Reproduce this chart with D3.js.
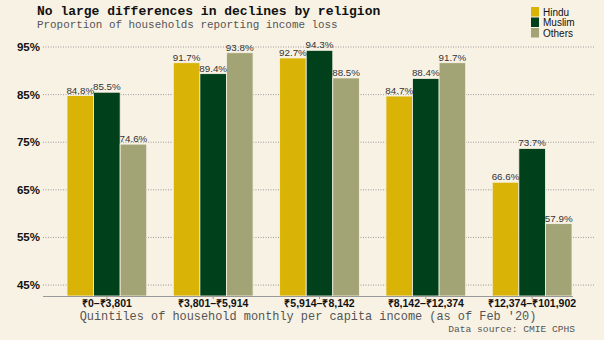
<!DOCTYPE html>
<html><head><meta charset="utf-8">
<script src="https://cdn.jsdelivr.net/npm/d3@7"></script>
<style>
html,body{margin:0;padding:0;background:#f8f2e5;}
svg{display:block;}
</style></head>
<body>
<svg id="c" width="604" height="340"></svg>
<script>
const categories = ["₹0–₹3,801","₹3,801–₹5,914","₹5,914–₹8,142","₹8,142–₹12,374","₹12,374–₹101,902"];
const seriesNames = ["Hindu","Muslim","Others"];
const hindu  = [84.8, 91.7, 92.7, 84.7, 66.6];
const muslim = [85.5, 89.4, 94.3, 88.4, 73.7];
const others = [74.6, 93.8, 88.5, 91.7, 57.9];
const yTicks = [45, 55, 65, 75, 85, 95];
const colors = ["#d9b406", "#00411b", "#a3a476"];

const seriesValues = [hindu, muslim, others];
const svg = d3.select("#c");
svg.append("rect").attr("width",604).attr("height",340).attr("fill","#f8f2e5");

const x0 = d3.scaleBand().domain(categories).range([67, 572]).paddingInner(0.25).paddingOuter(0);
const x1 = d3.scaleBand().domain(seriesNames).range([0, x0.bandwidth()]).padding(0);
const y = d3.scaleLinear().domain([42.7, 95]).range([296, 47]);

// gridlines
svg.append("g").selectAll("line").data(yTicks).join("line")
  .attr("x1",43).attr("x2",595)
  .attr("y1",d=>y(d)).attr("y2",d=>y(d))
  .attr("stroke","#9a9a9a").attr("stroke-width",1).attr("stroke-dasharray","1,1.5");

// y labels
svg.append("g").selectAll("text").data(yTicks).join("text")
  .attr("x",40).attr("y",d=>y(d)).attr("dy","0.35em")
  .attr("text-anchor","end")
  .attr("font-family","Liberation Sans, Arial, sans-serif").attr("font-weight","bold")
  .attr("font-size",11.5).attr("fill","#111")
  .text(d=>d+"%");

// bars
const groups = svg.append("g").selectAll("g").data(categories).join("g")
  .attr("transform",d=>`translate(${x0(d)},0)`);
groups.selectAll("rect").data((d,i)=>seriesNames.map((s,j)=>({s, v:seriesValues[j][i], j})))
  .join("rect")
  .attr("x",d=>x1(d.s)).attr("width",x1.bandwidth())
  .attr("y",d=>y(d.v)).attr("height",d=>y(42.7)-y(d.v))
  .attr("fill",d=>colors[d.j])
  .attr("stroke","#f8f2e5").attr("stroke-width",0.8);
groups.selectAll("text").data((d,i)=>seriesNames.map((s,j)=>({s, v:seriesValues[j][i], j})))
  .join("text")
  .attr("x",d=>x1(d.s)+x1.bandwidth()/2).attr("y",d=>y(d.v)-2)
  .attr("text-anchor","middle")
  .attr("font-family","Liberation Sans, Arial, sans-serif")
  .attr("font-size",9.8).attr("fill","#333")
  .text(d=>d.v.toFixed(1)+"%");

// x axis
const xAxis = d3.axisBottom(x0).tickSize(3).tickSizeOuter(0).tickPadding(1);
const gx = svg.append("g").attr("transform","translate(0,296)").call(xAxis);
gx.select(".domain").attr("d","M43,0.5H573").attr("stroke","#999");
gx.selectAll(".tick line").attr("stroke","#999");
gx.selectAll(".tick text").attr("font-family","Liberation Sans, Arial, sans-serif")
  .attr("font-weight","bold").attr("font-size",10.5).attr("fill","#111");

// titles
svg.append("text").attr("x",37).attr("y",15)
  .attr("font-family","Liberation Mono, Courier New, monospace").attr("font-weight","bold")
  .attr("font-size",13).attr("fill","#111")
  .text("No large differences in declines by religion");
svg.append("text").attr("x",37).attr("y",27.5)
  .attr("font-family","Liberation Mono, Courier New, monospace")
  .attr("font-size",10.9).attr("fill","#555")
  .text("Proportion of households reporting income loss");
svg.append("text").attr("x",308).attr("y",320).attr("text-anchor","middle")
  .attr("font-family","Liberation Mono, Courier New, monospace")
  .attr("font-size",11.9).attr("fill","#555")
  .text("Quintiles of household monthly per capita income (as of Feb '20)");
svg.append("text").attr("x",575).attr("y",332).attr("text-anchor","end")
  .attr("font-family","Liberation Mono, Courier New, monospace")
  .attr("font-size",9.6).attr("fill","#555")
  .text("Data source: CMIE CPHS");

// legend
const lg = svg.append("g").selectAll("g").data(seriesNames).join("g")
  .attr("transform",(d,i)=>`translate(531,${7+i*10.5})`);
lg.append("rect").attr("width",8).attr("height",9.5).attr("fill",(d,i)=>colors[i]);
lg.append("text").attr("x",12).attr("y",8.5)
  .attr("font-family","Liberation Sans, Arial, sans-serif")
  .attr("font-size",10).attr("fill","#111").text(d=>d);
</script>
</body></html>
